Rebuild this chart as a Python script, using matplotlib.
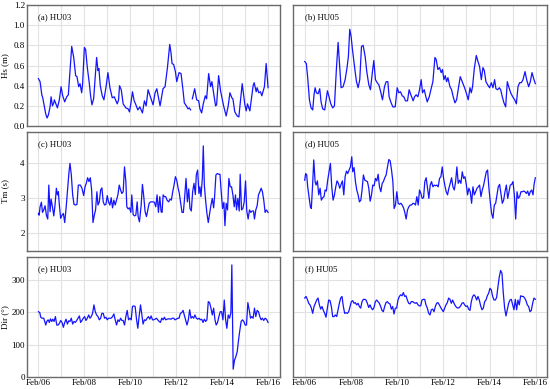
import numpy as np
import matplotlib
matplotlib.use("Agg")
import matplotlib.pyplot as plt
import matplotlib.dates as mdates

plt.rcParams["font.family"] = ["Liberation Serif", "DejaVu Serif"]

START = np.datetime64("2017-02-06T00:00")

# --- (a) Hs HU03: hours since Feb/06 00:00, values in m (NaN = gap) ---
hs03_t = [0, 1.7, 3.5, 4.5, 6.2, 7.6, 9.0, 10.4, 12.1, 13.2, 14.6, 16.0, 16.6, 19.8, 21.8,
          23.6, 25.3, 27.4, 29.5, 31.2, 32.9, 34.7, 36.8, 38.8, 40.2, 42.0, 43.4, 45.1,
          46.1, 47.9, 49.2, 51.0, 53.1, 54.4, 55.8, 57.6, 60.7, 62.1, 63.1, 64.5, 66.6,
          68.3, 70.4, 72.5, 74.6, 77.0, 79.1, 80.8, 82.2, 83.6, 84.6, 86.4, 88.4, 91.2,
          93.6, 95.0, 96.4, 98.1, 99.9, 101.3, 103.7, 105.8, 108.5, 110.6, 112.4, 114.4,
          116.5, 119.6, 121.7, 123.5, 126.9, 130.0, 132.1, 134.6, 137.0, 138.4, 139.4,
          141.1, 142.9, 144.3, 146.7, 148.8, 150.9, 152.2, 154.3, 156.1, 157.4, 158.8,
          159.7, 160.6, 163.0, 165.1, 167.2, 168.5, 170.3, 172.0, 174.1, 175.5, 177.6,
          179.6, 181.0, 184.8, 185.9, 188.0, 190.0, 193.2, 195.9, 198.0, 199.8, 201.8,
          202.9, 204.9, 207.4, 209.1, 210.8, 212.6, 215.4, 216.8, 218.1, 220.6, 224.0,
          225.1, 227.2, 228.2, 229.9, 231.7, 233.1, 235.8, 237.6, 239.6]
hs03_v = [0.47, 0.44, 0.31, 0.28, 0.19, 0.12, 0.08, 0.11, 0.19, 0.29, 0.20, 0.23, 0.26,
          0.18, 0.26, 0.39, 0.30, 0.24, 0.29, 0.31, 0.55, 0.79, 0.68, 0.50, 0.49, 0.39,
          0.42, 0.33, 0.42, 0.78, 0.76, 0.58, 0.42, 0.30, 0.21, 0.27, 0.68, 0.55, 0.57,
          0.40, 0.30, 0.26, 0.38, 0.53, 0.38, 0.28, 0.29, 0.25, 0.22, 0.26, 0.40, 0.36,
          0.22, 0.18, 0.17, 0.14, 0.22, 0.34, 0.25, 0.22, 0.16, 0.19, 0.13, 0.25, 0.20,
          0.36, 0.30, 0.21, 0.33, 0.37, 0.20, 0.37, 0.39, 0.58, 0.81, 0.72, 0.62, 0.61,
          0.54, 0.44, 0.53, 0.52, 0.35, 0.23, 0.20, 0.17, 0.18, 0.16, np.nan, 0.27, 0.37,
          0.26, 0.25, 0.17, 0.13, 0.22, 0.30, 0.27, 0.52, 0.39, 0.44, 0.20, 0.21, 0.50,
          0.35, 0.20, 0.10, 0.20, 0.33, 0.28, 0.27, 0.14, 0.10, 0.09, 0.25, 0.42, 0.21,
          0.15, 0.22, 0.15, 0.40, 0.43, 0.34, 0.38, 0.33, 0.34, 0.30, 0.39, 0.62, 0.38]

# --- (b) Hs HU05 ---
hs05_t = [0, 1.7, 3.1, 4.9, 6.6, 8.3, 9.7, 10.8, 12.1, 13.9, 15.6, 17.0, 18.7, 20.8, 22.5,
          23.6, 25.3, 27.1, 29.1, 30.9, 32.9, 34.7, 36.4, 37.8, 39.9, 42.0, 44.0, 45.4,
          46.8, 48.2, 49.6, 51.0, 52.4, 53.8, 55.5, 57.2, 59.0, 60.7, 62.8, 64.5, 66.6,
          68.3, 70.4, 71.8, 73.5, 75.3, 77.0, 78.7, 80.8, 82.9, 84.6, 86.4, 87.7, 89.8,
          91.6, 94.0, 96.1, 97.8, 99.5, 101.3, 103.0, 104.7, 106.8, 108.5, 110.3, 112.7,
          114.1, 115.8, 117.6, 119.3, 121.0, 122.4, 124.2, 125.9, 127.3, 129.4, 131.1,
          133.2, 135.3, 136.6, 138.4, 140.1, 141.8, 143.2, 144.6, 146.0, 147.4, 148.8,
          150.9, 152.6, 154.3, 156.1, 157.8, 159.5, 161.6, 163.7, 166.1, 167.8, 169.9,
          171.7, 173.1, 174.4, 176.2, 178.3, 180.0, 181.7, 183.5, 185.2, 186.6, 188.3,
          190.0, 192.1, 193.9, 195.6, 197.3, 198.7, 200.5, 202.2, 203.6, 205.3, 207.0,
          208.8, 210.5, 212.3, 214.0, 216.1, 218.2, 219.9, 221.6, 223.3, 225.1, 226.8,
          228.9, 230.6, 232.7, 234.4, 236.2, 237.9, 239.6]
hs05_v = [0.64, 0.62, 0.48, 0.26, 0.18, 0.16, 0.31, 0.38, 0.33, 0.32, 0.37, 0.24, 0.17,
          0.16, 0.28, 0.35, 0.29, 0.22, 0.18, 0.20, 0.56, 0.83, 0.59, 0.38, 0.39, 0.46,
          0.58, 0.69, 0.96, 0.89, 0.76, 0.65, 0.54, 0.44, 0.38, 0.46, 0.79, 0.80, 0.69,
          0.54, 0.41, 0.36, 0.54, 0.65, 0.46, 0.43, 0.41, 0.35, 0.26, 0.39, 0.44, 0.44,
          0.29, 0.23, 0.19, 0.19, 0.38, 0.33, 0.34, 0.30, 0.29, 0.25, 0.25, 0.36, 0.31,
          0.25, 0.29, 0.31, 0.29, 0.36, 0.46, 0.33, 0.36, 0.29, 0.24, 0.29, 0.36, 0.44,
          0.68, 0.66, 0.56, 0.58, 0.53, 0.56, 0.46, 0.50, 0.44, 0.48, 0.39, 0.36, 0.29,
          0.23, 0.26, 0.36, 0.49, 0.44, 0.38, 0.33, 0.26, 0.38, 0.33, 0.39, 0.57, 0.70,
          0.64, 0.59, 0.46, 0.58, 0.55, 0.44, 0.41, 0.38, 0.43, 0.38, 0.46, 0.37, 0.36,
          0.38, 0.36, 0.29, 0.23, 0.19, 0.44, 0.38, 0.33, 0.29, 0.26, 0.22, 0.39, 0.43,
          0.43, 0.46, 0.54, 0.46, 0.39, 0.44, 0.53, 0.47, 0.42]

# --- (c) Tm HU03, seconds ---
tm03_t = [0, 0.7, 1.7, 3.1, 4.2, 5.5, 6.9, 8.3, 9.7, 10.8, 12.1, 13.2, 14.6, 16.0, 17.3,
          18.7, 19.8, 20.8, 21.8, 23.2, 24.6, 26.0, 27.4, 28.8, 30.5, 31.9, 32.9, 34.3,
          35.7, 37.1, 38.8, 40.2, 41.6, 43.7, 45.4, 47.2, 48.6, 49.9, 51.3, 52.7, 54.1,
          55.5, 56.9, 58.3, 59.6, 61.0, 62.1, 63.5, 64.9, 66.2, 67.6, 69.0, 70.4, 71.8,
          73.2, 74.6, 75.9, 77.3, 78.7, 80.1, 81.5, 82.9, 84.3, 85.7, 87.0, 88.4, 89.8,
          91.2, 92.2, 93.6, 95.0, 96.4, 97.4, 98.8, 100.2, 101.6, 103.0, 104.0, 105.4,
          107.2, 108.5, 109.9, 111.3, 112.7, 114.1, 115.5, 116.9, 118.3, 119.6, 121.0,
          122.4, 123.8, 125.2, 126.6, 128.0, 129.0, 130.1, 131.4, 132.8, 134.2, 135.9,
          137.3, 138.7, 140.1, 141.5, 142.9, 144.3, 145.7, 147.0, 148.4, 149.8, 151.2,
          152.6, 154.0, 155.4, 156.8, 158.1, 159.5, 160.9, 162.3, 163.7, 164.7, 166.1,
          167.5, 168.5, 169.6, 171.0, 172.0, 173.1, 174.4, 175.8, 177.2, 178.6, 180.0,
          181.4, 182.8, 183.8, 185.2, 186.6, 188.0, 189.4, 190.7, 192.1, 193.5, 194.6,
          195.9, 197.3, 198.7, 200.1, 201.5, 202.9, 204.3, 205.6, 206.7, 208.1, 209.5,
          210.5, 211.9, 213.3, 214.7, 216.1, 217.4, 218.8, 220.2, 221.6, 223.0, 224.4,
          225.4, 226.8, 228.2, 229.6, 231.0, 232.4, 233.7, 235.1, 236.5, 237.9, 239.6]
tm03_v = [2.57, 2.52, 2.76, 2.89, 2.60, 2.67, 2.79, 2.52, 2.41, 3.38, 2.62, 2.98, 2.76,
          2.50, 2.81, 3.29, 3.10, 3.19, 2.81, 2.43, 2.52, 2.57, 2.31, 2.71, 3.29, 3.76,
          4.00, 3.67, 3.10, 2.83, 2.81, 2.83, 3.38, 3.38, 3.29, 3.08, 3.33, 3.43, 3.59,
          3.48, 3.59, 3.24, 2.31, 2.52, 2.67, 3.19, 2.81, 2.90, 3.24, 3.30, 2.90, 2.81,
          2.83, 3.08, 2.89, 2.81, 3.02, 2.73, 2.95, 2.81, 2.95, 3.10, 3.38, 3.24, 3.14,
          3.19, 3.90, 3.48, 2.76, 2.70, 2.73, 2.60, 3.10, 2.54, 2.50, 2.52, 2.90, 2.48,
          2.33, 2.81, 3.40, 3.05, 2.62, 2.48, 2.67, 2.86, 2.90, 2.90, 2.90, 2.89, 2.76,
          3.10, 2.60, 3.05, 2.62, 2.60, 3.10, 3.05, 3.05, 2.95, 2.90, 2.98, 2.95, 3.19,
          3.38, 3.62, 3.52, 3.30, 3.14, 2.86, 2.60, 2.60, 3.05, 3.57, 2.90, 3.27, 2.71,
          2.64, 3.19, 3.43, 3.11, 3.67, 3.81, 3.14, 3.33, 3.05, 3.57, 4.50, 3.38, 2.95,
          2.57, 2.31, 2.57, 2.81, 3.00, 2.73, 3.05, 3.67, 3.71, 3.69, 3.69, 3.19, 2.71,
          2.89, 2.22, 2.86, 2.67, 3.57, 3.33, 3.33, 3.10, 2.76, 3.10, 2.67, 3.00, 2.64,
          3.69, 2.67, 2.71, 2.90, 3.50, 2.64, 2.41, 2.67, 2.60, 2.64, 2.64, 2.41, 2.67,
          2.79, 3.10, 3.19, 3.29, 3.19, 2.95, 2.60, 2.67, 2.60]

# --- (d) Tm HU05 ---
tm05_t = [0, 1.0, 2.1, 3.1, 4.5, 5.9, 6.9, 8.3, 9.4, 10.8, 11.8, 13.2, 14.6, 16.0, 17.3,
          18.7, 20.1, 21.2, 22.5, 23.9, 25.3, 26.7, 28.1, 29.5, 30.9, 32.3, 33.6, 35.0,
          36.4, 37.8, 39.2, 40.6, 42.0, 43.4, 44.7, 46.1, 47.5, 48.9, 49.9, 51.3, 52.7,
          54.1, 55.5, 56.9, 58.3, 59.6, 61.0, 62.4, 63.8, 65.2, 66.6, 68.0, 69.4, 70.7,
          72.1, 73.5, 74.9, 76.3, 77.7, 79.1, 80.5, 81.8, 83.2, 84.6, 86.0, 87.4, 88.8,
          90.2, 91.6, 92.9, 94.3, 95.7, 97.1, 98.5, 99.9, 101.3, 102.7, 104.0, 105.4,
          106.8, 108.2, 109.6, 111.0, 112.4, 113.8, 115.1, 116.5, 117.9, 119.3, 120.7,
          122.1, 123.5, 124.8, 126.2, 127.6, 129.0, 130.4, 131.8, 133.2, 134.6, 135.9,
          137.3, 138.7, 140.1, 141.5, 142.9, 144.3, 145.7, 147.0, 148.4, 149.8, 151.2,
          152.6, 154.0, 155.4, 156.8, 158.1, 159.5, 160.9, 162.3, 163.7, 165.1, 166.5,
          167.9, 169.2, 170.6, 172.0, 173.4, 174.8, 176.2, 177.6, 179.0, 180.3, 181.7,
          183.1, 184.5, 185.9, 187.3, 188.7, 190.0, 191.4, 192.8, 194.2, 195.6, 197.0,
          198.4, 199.8, 201.1, 202.5, 203.9, 205.3, 206.7, 208.1, 209.5, 210.9, 212.2,
          213.6, 215.0, 216.4, 217.8, 219.2, 220.6, 221.9, 223.3, 224.7, 226.1, 227.5,
          228.9, 230.3, 231.7, 233.0, 234.4, 235.8, 237.2, 238.3, 239.6]
tm05_v = [3.52, 3.71, 3.67, 3.33, 3.05, 2.76, 2.71, 3.43, 4.10, 3.48, 3.38, 3.50, 3.10,
          3.29, 2.95, 3.02, 3.05, 3.24, 3.21, 3.52, 3.76, 4.00, 3.33, 2.95, 3.10, 3.33,
          3.50, 3.43, 3.29, 3.40, 3.50, 3.10, 3.62, 3.78, 3.71, 3.81, 3.90, 4.19, 3.76,
          3.88, 3.48, 3.24, 3.10, 2.90, 2.95, 3.24, 3.67, 3.52, 3.50, 3.48, 3.29, 2.92,
          3.10, 3.38, 3.36, 3.57, 3.50, 3.69, 3.33, 3.19, 3.43, 3.48, 3.59, 3.67, 3.90,
          4.11, 4.07, 3.81, 3.48, 2.71, 2.81, 3.19, 2.86, 2.83, 2.86, 2.81, 2.73, 2.60,
          2.41, 2.67, 2.76, 2.81, 2.81, 2.86, 2.85, 2.81, 3.05, 2.81, 3.24, 3.14, 3.00,
          3.02, 3.48, 3.59, 3.29, 3.00, 3.38, 3.48, 3.33, 3.38, 3.36, 3.38, 3.33, 3.57,
          3.62, 3.90, 3.57, 3.36, 3.19, 3.10, 3.29, 3.43, 3.59, 3.33, 3.24, 3.48, 3.90,
          3.43, 3.52, 3.43, 3.76, 3.57, 3.62, 3.40, 3.10, 3.29, 3.19, 2.86, 3.33, 3.10,
          3.19, 3.29, 3.33, 3.38, 3.05, 3.24, 3.38, 3.57, 3.76, 3.81, 3.29, 2.90, 2.57,
          2.43, 2.81, 2.86, 3.10, 3.33, 3.40, 3.14, 2.86, 2.95, 3.19, 3.38, 3.00, 3.19,
          3.38, 3.40, 3.48, 3.10, 2.41, 3.19, 3.00, 3.05, 3.19, 3.19, 3.21, 3.19, 3.14,
          3.21, 3.08, 3.19, 3.24, 3.10, 3.40, 3.59]

# --- (e) Dir HU03, degrees ---
dir03_t = [0, 1.4, 2.4, 3.8, 5.5, 6.6, 7.6, 8.7, 10.1, 11.4, 12.5, 13.9, 14.9, 16.3, 17.7,
           19.1, 20.5, 21.8, 23.2, 24.6, 26.0, 27.4, 28.8, 30.2, 31.6, 32.9, 34.3, 35.7,
           37.1, 38.5, 39.9, 41.3, 42.7, 44.0, 45.4, 46.8, 48.2, 49.6, 51.0, 52.4, 53.8,
           55.1, 56.5, 57.9, 59.3, 60.7, 62.1, 63.5, 64.9, 66.2, 67.6, 69.0, 70.4, 71.8,
           73.2, 74.6, 75.9, 77.3, 78.7, 80.1, 81.5, 82.9, 84.3, 85.7, 87.0, 88.4, 89.8,
           91.2, 92.6, 94.0, 95.4, 96.8, 98.1, 99.5, 100.9, 102.3, 103.7, 105.1, 106.5,
           107.9, 109.2, 110.6, 112.0, 113.4, 114.8, 116.2, 117.6, 119.0, 120.3, 121.7,
           123.1, 124.5, 125.9, 127.3, 128.7, 130.1, 131.4, 132.8, 134.2, 135.6, 137.0,
           138.4, 139.8, 141.1, 142.5, 143.9, 145.3, 146.7, 148.1, 149.5, 150.9, 152.2,
           153.6, 155.0, 156.4, 157.8, 159.2, 160.6, 162.0, 163.3, 164.7, 166.1, 167.5,
           168.9, 170.3, 171.7, 173.1, 174.4, 175.8, 177.2, 178.6, 180.0, 181.4, 182.8,
           184.2, 185.5, 186.9, 188.3, 189.7, 191.1, 192.5, 193.9, 195.3, 196.6, 198.0,
           199.4, 200.8, 201.8, 203.2, 204.6, 206.0, 207.4, 208.8, 210.2, 211.5, 212.9,
           214.3, 215.7, 217.1, 218.5, 219.9, 221.3, 222.6, 224.0, 225.4, 226.8, 228.2,
           229.6, 231.0, 232.4, 233.7, 235.1, 236.5, 237.9, 239.6]
dir03_v = [202, 199, 185, 182, 182, 172, 161, 172, 177, 169, 180, 172, 179, 172, 187, 161,
           161, 166, 175, 169, 154, 169, 179, 164, 174, 172, 182, 164, 172, 169, 175, 182,
           189, 169, 175, 182, 187, 175, 182, 192, 182, 187, 197, 223, 202, 192, 187, 177,
           182, 197, 197, 182, 185, 177, 182, 182, 182, 187, 195, 177, 161, 177, 172, 182,
           175, 175, 161, 187, 206, 177, 182, 177, 218, 220, 218, 179, 151, 189, 223, 192,
           164, 177, 175, 182, 187, 179, 189, 177, 177, 179, 182, 177, 172, 169, 182, 177,
           185, 177, 179, 180, 180, 179, 182, 182, 177, 179, 182, 182, 197, 199, 206, 192,
           177, 161, 177, 208, 182, 187, 182, 192, 182, 179, 182, 177, 179, 169, 179, 172,
           177, 233, 230, 213, 192, 213, 177, 161, 169, 187, 202, 202, 177, 238, 177, 151,
           192, 182, 199, 346, 25, 53, 64, 79, 115, 146, 172, 177, 172, 161, 161, 230, 208,
           182, 187, 182, 213, 187, 206, 202, 187, 177, 182, 175, 182, 179, 169]

# --- (f) Dir HU05, sampled every ~1.39 h from Feb/06 00:00 ---
dir05_v = [244, 249, 240, 228, 223, 213, 197, 218, 228, 238, 244, 223, 210, 218, 206, 197,
           185, 213, 238, 236, 218, 187, 187, 192, 187, 208, 228, 244, 249, 218, 197, 199,
           197, 202, 218, 233, 236, 228, 230, 223, 228, 218, 213, 233, 240, 240, 238, 228,
           215, 223, 213, 208, 215, 233, 238, 233, 228, 218, 206, 202, 218, 230, 233, 228,
           226, 210, 218, 195, 213, 213, 238, 249, 254, 251, 261, 249, 251, 238, 228, 226,
           233, 233, 230, 228, 230, 223, 220, 220, 238, 240, 240, 223, 213, 197, 192, 208,
           210, 202, 218, 228, 230, 223, 215, 208, 202, 213, 223, 230, 244, 240, 228, 238,
           228, 220, 215, 213, 215, 220, 228, 230, 223, 218, 220, 210, 206, 233, 249, 254,
           249, 238, 249, 238, 220, 208, 213, 233, 238, 251, 259, 274, 269, 249, 238, 238,
           246, 280, 310, 329, 320, 259, 213, 189, 208, 228, 238, 240, 223, 208, 240, 208,
           238, 223, 251, 249, 249, 244, 236, 223, 218, 202, 206, 228, 244, 240]
dir05_t = np.linspace(0, 239.6, len(dir05_v))

panels = [
    (hs03_t, hs03_v, "(a) HU03"), (hs05_t, hs05_v, "(b) HU05"),
    (tm03_t, tm03_v, "(c) HU03"), (tm05_t, tm05_v, "(d) HU05"),
    (dir03_t, dir03_v, "(e) HU03"), (dir05_t, dir05_v, "(f) HU05"),
]
ylabels = ["Hs (m)", "Tm (s)", "Dir (°)"]
ylims = [(0, 1.2), (1.5, 4.9), (0, 370)]
yticks = [np.arange(0, 1.21, 0.2), [2, 3, 4], [0, 100, 200, 300]]

fig = plt.figure(figsize=(5.5, 3.89), dpi=100)
lefts = [0.049, 0.533]
width = [0.460, 0.462]
bottoms = [0.676, 0.355, 0.030]
heights = [0.311, 0.306, 0.309]

xmin = START - np.timedelta64(12, "h")
xmax = START + np.timedelta64(252, "h")

for i, (t, v, lab) in enumerate(panels):
    row, col = divmod(i, 2)
    ax = fig.add_axes([lefts[col], bottoms[row], width[col], heights[row]])
    times = START + (np.asarray(t, dtype=float) * 60).astype("timedelta64[m]")
    ax.plot(times, v, color="#1414ff", lw=0.9)
    ax.set_xlim(xmin, xmax)
    ax.set_ylim(*ylims[row])
    ax.set_yticks(yticks[row])
    ax.xaxis.set_major_locator(mdates.DayLocator(interval=2))
    ax.xaxis.set_minor_locator(mdates.DayLocator())
    ax.xaxis.set_major_formatter(mdates.DateFormatter("%b/%d"))
    ax.grid(True, which="both", color="#e2e2e2", lw=0.8)
    ax.set_axisbelow(True)
    ax.tick_params(length=0, labelsize=6.5, pad=1.5)
    ax.tick_params(which="minor", length=0)
    for s in ax.spines.values():
        s.set_color("#6a6a6a")
        s.set_linewidth(1.0)
    if row == 0:
        ax.yaxis.set_major_formatter(plt.FormatStrFormatter("%.1f"))
    if row < 2:
        ax.tick_params(labelbottom=False)
    if col == 1:
        ax.tick_params(labelleft=False)
    else:
        ax.set_ylabel(ylabels[row], fontsize=6.5)
        ax.yaxis.set_label_coords(-0.072, 0.5)
    ax.text(0.045, 0.9, lab, transform=ax.transAxes, fontsize=6.3, va="center")

fig.savefig("out.png", dpi=100)
